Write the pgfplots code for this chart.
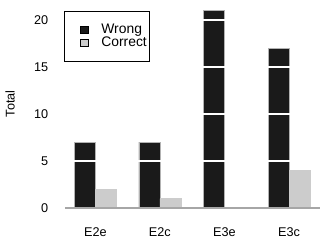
\documentclass[border=0pt]{standalone}
\usepackage{fontspec}
\setmainfont{Liberation Sans}
\usepackage{pgfplots}
\pgfplotsset{compat=1.18}
\definecolor{wrongc}{HTML}{1A1A1A}
\definecolor{correctc}{HTML}{CCCCCC}
\begin{document}
\begin{tikzpicture}
\begin{axis}[
  at={(0,0)}, anchor=south west,
  scale only axis,
  width=191.25pt, height=150.2pt,
  xmin=-0.47, xmax=3.48,
  ymin=0, ymax=21.3,
  ybar, bar width=0.325,
  xtick={0,1,2,3},
  xticklabels={E2e,E2c,E3e,E3c},
  ytick={0,5,10,15,20},
  tick style={draw=none},
  font=\fontsize{9.5}{11}\selectfont,
  /pgf/number format/assume math mode=true,
  axis on top,
  ymajorgrids,
  major grid style={white, line width=1.2pt},
  axis x line*=bottom,
  axis y line*=left,
  x axis line style={draw=gray!70, line width=0.8pt, -},
  y axis line style={draw=none},
  yticklabel style={xshift=-9pt},
  xticklabel style={yshift=-7pt},
  ylabel={Total},
  ylabel style={at={(axis description cs:-0.215,0.52)}, anchor=center},
  legend style={at={(-0.005,0.985)}, anchor=north west, draw=black, line width=0.5pt,
    font=\fontsize{10.4}{12.5}\selectfont, inner xsep=2pt, inner ysep=9.5pt,
    nodes={inner sep=0pt},
    row sep=1.5pt, legend cell align=left},
  legend image code/.code={\draw[draw=none, fill=none] (0pt,-2.7pt) rectangle (26pt,2.7pt); \draw[#1, draw=black, line width=0.5pt] (10.5pt,-2.7pt) rectangle (16.3pt,2.7pt);},
]
\addplot[fill=wrongc, draw=gray!60, line width=0.4pt, bar shift=-0.1625]
  coordinates {(0,7) (1,7) (2,21) (3,17)};
\addplot[fill=correctc, draw=correctc, line width=0.4pt, bar shift=0.1625]
  coordinates {(0,2) (1,1) (2,0) (3,4)};
\legend{Wrong, Correct}
\end{axis}
\pgfresetboundingbox
\path[use as bounding box] (-48.75pt,-27pt) rectangle (194.25pt,156pt);
\end{tikzpicture}
\end{document}
